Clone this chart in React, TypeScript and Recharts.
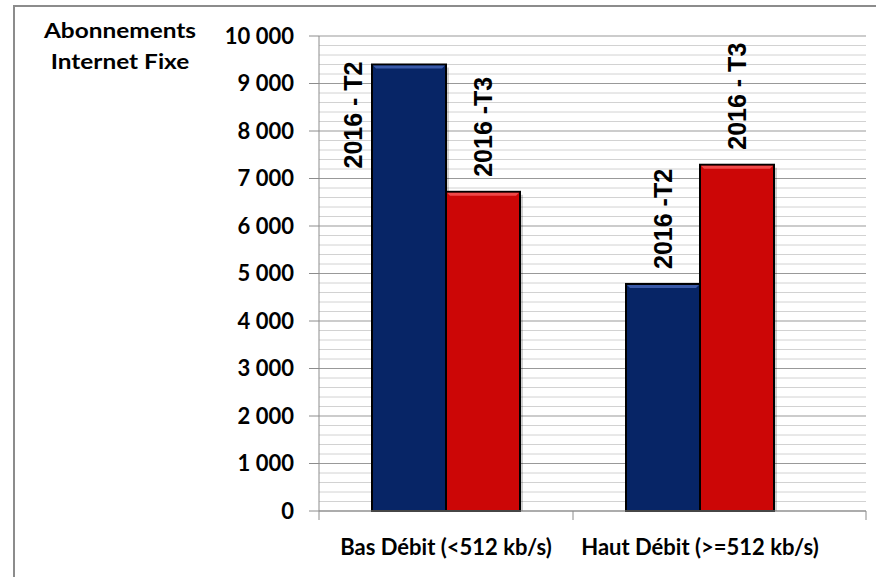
import { BarChart, Bar, XAxis, YAxis, CartesianGrid, LabelList } from 'recharts'

// Internet fixe, 2016 T2 vs T3
const categories = ['Bas Débit (<512 kb/s)', 'Haut Débit (>=512 kb/s)']
const t2Values = [9400, 4780]
const t3Values = [6720, 7290]
const t2Labels = ['2016 - T2', '2016 -T2']
const t3Labels = ['2016 -T3', '2016 - T3']
const yTicks = [0, 1000, 2000, 3000, 4000, 5000, 6000, 7000, 8000, 9000, 10000]
const minorStep = 200
const yMax = 10000

const data = categories.map((name, i) => ({ name, t2: t2Values[i], t3: t3Values[i] }))
const minorTicks: number[] = []
for (let v = minorStep; v < yMax; v += minorStep) if (v % 1000 !== 0) minorTicks.push(v)

const PLOT_TOP = 36
const PAD_RIGHT = 39
const AXIS_GRAY = '#8c8c8c'

const fmt = (v: number) => String(v).replace(/\B(?=(\d{3})+(?!\d))/g, ' ')

// minor gridlines every 200
const minorLines = (args: any) => {
  const scale = args?.yAxis?.scale
  if (typeof scale === 'function') return minorTicks.map((v) => scale(v))
  const { top, height } = args.offset
  return minorTicks.map((v) => top + height * (1 - v / yMax))
}

function BevelBar(props: any) {
  const { x, y, width, height, fill, bevel } = props
  if (!height || height <= 0) return null
  const b = 4
  return (
    <g>
      <rect x={x + 3} y={y + 3} width={width} height={height - 3} fill="rgba(0,0,0,0.18)" />
      <rect x={x} y={y} width={width} height={height} fill={fill} stroke="#000" strokeWidth={2} />
      <polygon
        points={`${x + 1},${y + 1} ${x + width - 1},${y + 1} ${x + width - b},${y + b} ${x + b},${y + b}`}
        fill={bevel}
      />
    </g>
  )
}

const makeLabel = (texts: string[]) => (props: any) => {
  const { x, y, width, index } = props
  const text = texts[index]
  const approxLen = 110
  const style = { fontFamily: '"Liberation Sans", Arial, sans-serif', fontWeight: 700, fontSize: 25 }
  // not enough room above the bar -> put it beside, on the left
  if (y - 15 - approxLen < PLOT_TOP) {
    const cx = x - 19
    const cy = y - 3
    return (
      <text x={cx} y={cy} transform={`rotate(-90 ${cx} ${cy})`} textAnchor="end" dominantBaseline="central" fill="#000" style={style}>
        {text}
      </text>
    )
  }
  const cx = x + width / 2
  const cy = y - 15
  return (
    <text x={cx} y={cy} transform={`rotate(-90 ${cx} ${cy})`} textAnchor="start" dominantBaseline="central" fill="#000" style={style}>
      {text}
    </text>
  )
}

function CategoryTick(props: any) {
  const { x, y, payload, index } = props
  const half = payload?.offset || 127
  const last = index === categories.length - 1
  return (
    <g>
      <line x1={x - half} y1={y} x2={x - half} y2={y + 9} stroke={AXIS_GRAY} />
      {last && <line x1={x + half + PAD_RIGHT} y1={y} x2={x + half + PAD_RIGHT} y2={y + 9} stroke={AXIS_GRAY} />}
      <text x={x} y={y + 44} textAnchor="middle" fill="#000" style={{ fontFamily: 'Lato, sans-serif', fontWeight: 700, fontSize: 22 }}>
        {payload.value}
      </text>
    </g>
  )
}

export default function App() {
  const titleStyle = {
    position: 'absolute' as const,
    left: 20,
    width: 200,
    textAlign: 'center' as const,
    fontFamily: 'Lato, sans-serif',
    fontWeight: 700,
    fontSize: 20,
    lineHeight: '20px',
    color: '#000',
    transform: 'scaleX(1.22)',
  }
  return (
    <div style={{ position: 'absolute', left: 0, top: 0, width: 876, height: 577, overflow: 'hidden', background: '#fff' }}>
      <div style={{ position: 'absolute', left: 13, top: 5, width: 900, height: 600, border: `2px solid ${AXIS_GRAY}` }} />
      <div style={{ ...titleStyle, top: 20 }}>Abonnements</div>
      <div style={{ ...titleStyle, top: 51 }}>Internet Fixe</div>
      <BarChart
        width={876}
        height={577}
        data={data}
        margin={{ top: PLOT_TOP, right: 10, left: 219, bottom: 26 }}
        barCategoryGap={53}
        barGap={0}
        style={{ position: 'absolute', left: 0, top: 0 }}
      >
        <CartesianGrid vertical={false} horizontalCoordinatesGenerator={minorLines} stroke="#d2d2d2" />
        <CartesianGrid vertical={false} stroke="#999" />
        <XAxis
          dataKey="name"
          height={40}
          padding={{ left: 0, right: PAD_RIGHT }}
          axisLine={{ stroke: AXIS_GRAY }}
          tickLine={false}
          tickSize={0}
          tickMargin={0}
          interval={0}
          tick={<CategoryTick />}
        />
        <YAxis
          width={100}
          domain={[0, yMax]}
          ticks={yTicks}
          interval={0}
          tickFormatter={fmt}
          tickSize={10}
          tickMargin={15}
          axisLine={{ stroke: AXIS_GRAY }}
          tickLine={{ stroke: AXIS_GRAY }}
          tick={{ fill: '#000', fontFamily: 'Lato, sans-serif', fontWeight: 700, fontSize: 22 }}
        />
        <Bar dataKey="t2" fill="#072566" shape={<BevelBar bevel="#3a5aa8" />} isAnimationActive={false}>
          <LabelList dataKey="t2" content={makeLabel(t2Labels)} />
        </Bar>
        <Bar dataKey="t3" fill="#cc0606" shape={<BevelBar bevel="#f04848" />} isAnimationActive={false}>
          <LabelList dataKey="t3" content={makeLabel(t3Labels)} />
        </Bar>
      </BarChart>
    </div>
  )
}
